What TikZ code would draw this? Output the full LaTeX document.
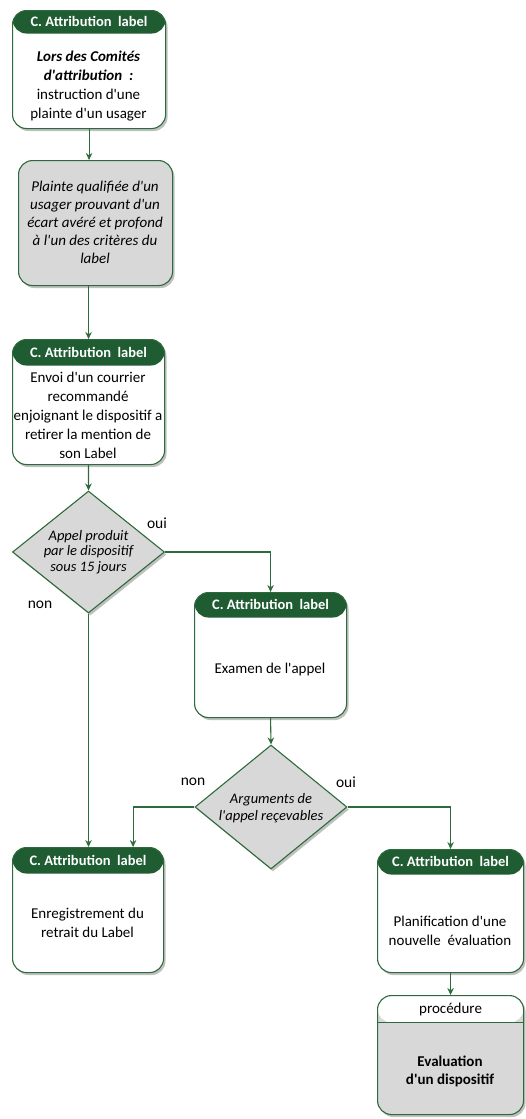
\documentclass[tikz,border=0pt]{standalone}
\usepackage{fontspec}
\setmainfont{Carlito}[Ligatures=TeXOff]
\usetikzlibrary{arrows.meta,shadows,shapes.geometric}
\definecolor{hdr}{HTML}{1F5C32}
\definecolor{lin}{HTML}{2E6B3C}
\definecolor{gfill}{HTML}{D8D8D8}
\tikzset{
  shad/.style={drop shadow={shadow xshift=2pt,shadow yshift=-2.5pt,fill=black!45,opacity=.55}},
  box/.style={draw=lin,line width=1.1pt,rounded corners=14pt,fill=white,shad,inner sep=0pt,anchor=north west},
  hbox/.style={box,path picture={\fill[hdr] (path picture bounding box.north west) rectangle ([yshift=-#1]path picture bounding box.north east);}},
  pbox/.style={box,fill=gfill,path picture={\fill[white] (path picture bounding box.north west) rectangle ([yshift=-#1]path picture bounding box.north east);
     \draw[lin,line width=1.1pt] ([yshift=-#1]path picture bounding box.north west) -- ([yshift=-#1]path picture bounding box.north east);}},
  dia/.style={diamond,draw=lin,line width=1.1pt,fill=gfill,shad,inner sep=0pt},
  htext/.style={text=white,font=\bfseries\fontsize{14.5}{17}\selectfont},
  btext/.style={align=center,font=\fontsize{15}{19}\selectfont,inner sep=0pt},
  itext/.style={align=center,font=\itshape\fontsize{15}{18}\selectfont,inner sep=0pt},
  dtext/.style={align=center,font=\itshape\fontsize{14.5}{15.5}\selectfont,inner sep=0pt},
  lab/.style={font=\fontsize{15.5}{18}\selectfont,inner sep=0pt},
  arr/.style={draw=lin,line width=1.1pt,-{Stealth[length=7pt,width=6.5pt]}},
  ln/.style={draw=lin,line width=1.1pt}
}
\begin{document}
\begin{tikzpicture}[x=1pt,y=-1pt]
\useasboundingbox (0,0) rectangle (525,1119);
% box 1
\node[hbox=23pt,minimum width=153pt,minimum height=118pt] (b1) at (12,10) {};
\node[htext] (h1) at ([yshift=-11.5pt]b1.north) {C. Attribution\ \ label};
\node[btext] (t1) at (88.5,86) {\textbf{\textit{Lors des Comités}}\\\textbf{\textit{d'attribution\ \ :}}\\instruction d'une\\plainte d'un usager};
% box 2
\node[box,fill=gfill,minimum width=154pt,minimum height=125pt] (b2) at (18,160) {};
\node[itext] (t2) at (95,222) {Plainte qualifiée d'un\\usager prouvant\ d'un\\écart avéré et profond\\à l'un des critères du\\label};
% box 3
\node[hbox=26pt,minimum width=152pt,minimum height=125pt] (b3) at (12,339) {};
\node[htext] (h3) at ([yshift=-13pt]b3.north) {C. Attribution\ \ label};
\node[btext] (t3) at (88,415) {Envoi d'un courrier\\recommandé\\enjoignant le dispositif a\\retirer la mention de\\son Label};
% diamond 1
\node[dia,minimum width=152pt,minimum height=122pt] (d1) at (88.5,552) {};
\node[dtext] (td1) at (88.5,552) {Appel produit\\par le dispositif\\sous 15 jours};
\node[lab] (oui1) at (157,523) {oui};
\node[lab] (non1) at (40,605) {non};
% box 4
\node[hbox=25pt,minimum width=152pt,minimum height=125pt] (b4) at (194,592) {};
\node[htext] (h4) at ([yshift=-12.5pt]b4.north) {C. Attribution\ \ label};
\node[btext] (t4) at (270,669) {Examen de l'appel};
% diamond 2
\node[dia,minimum width=152pt,minimum height=124pt] (d2) at (271,807) {};
\node[dtext,font=\itshape\fontsize{14.5}{17.5}\selectfont] (td2) at (271,808) {Arguments de\\l'appel reçevables};
\node[lab] (non2) at (193,782) {non};
\node[lab] (oui2) at (346,782) {oui};
% box 5
\node[hbox=26pt,minimum width=151pt,minimum height=125pt] (b5) at (12,847) {};
\node[htext] (h5) at ([yshift=-13pt]b5.north) {C. Attribution\ \ label};
\node[btext] (t5) at (87.5,923) {Enregistrement du\\retrait du Label};
% box 6
\node[hbox=25pt,minimum width=146pt,minimum height=123pt] (b6) at (377,849) {};
\node[htext] (h6) at ([yshift=-12.5pt]b6.north) {C. Attribution\ \ label};
\node[btext] (t6) at (450,931) {Planification d'une\\nouvelle\ \ évaluation};
% box 7
\node[pbox=27pt,minimum width=146pt,minimum height=119pt] (b7) at (377,995) {};
\node[btext] (h7) at ([yshift=-14pt]b7.north) {procédure};
\node[btext,font=\bfseries\fontsize{15}{18}\selectfont] (t7) at (450,1071) {Evaluation\\d'un dispositif};
% connectors
\draw[arr] (b1.south) -- (b1.south |- b2.north);
\draw[arr] (b3.north |- b2.south) -- (b3.north);
\draw[arr] (b3.south) -- (d1.north);
\draw[arr] (d1.east) -| (b4.north);
\draw[arr] (b4.south) -- (d2.north);
\draw[arr] (d1.south) -- (d1.south |- b5.north);
\coordinate (c5) at ([xshift=45pt]b5.north);
\draw[arr] (d2.west) -| (c5);
\draw[arr] (d2.east) -| (b6.north);
\draw[arr] (b6.south) -- (b7.north);
\end{tikzpicture}
\end{document}
